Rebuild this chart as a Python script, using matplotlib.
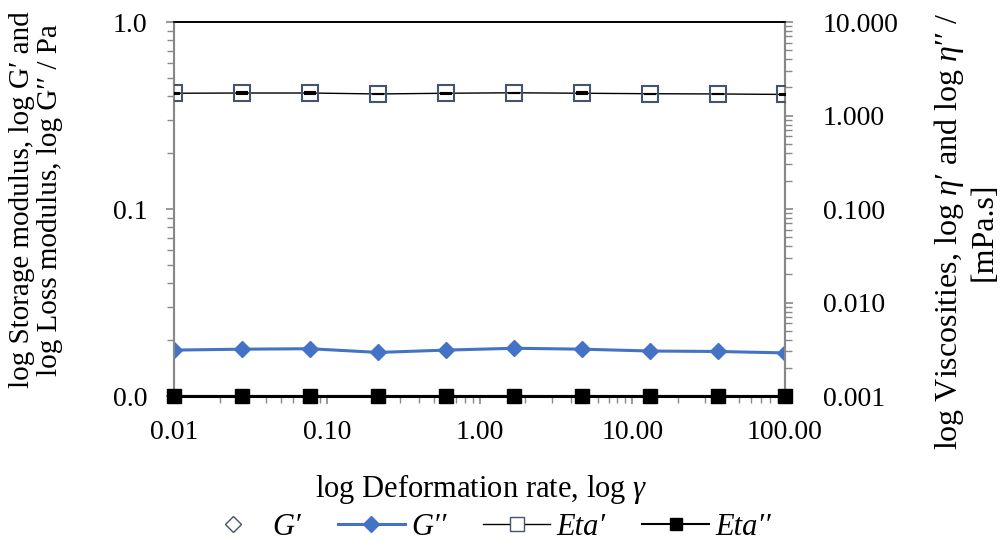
import matplotlib
matplotlib.use('Agg')
import matplotlib.pyplot as plt
from matplotlib.ticker import FormatStrFormatter, LogLocator, NullFormatter
from matplotlib.lines import Line2D

plt.rcParams['font.family'] = ['Liberation Serif', 'DejaVu Serif']
plt.rcParams['mathtext.fontset'] = 'custom'
plt.rcParams['mathtext.rm'] = 'Liberation Serif'
plt.rcParams['mathtext.it'] = 'Liberation Serif:italic'

# deformation rate
rate = [0.01, 0.0279, 0.0778, 0.217, 0.606, 1.69, 4.71, 13.1, 36.6, 100.0]
# storage modulus G' (not shown on chart)
g_storage = []
# loss modulus G'' / Pa
g_loss = [0.0176, 0.0178, 0.0179, 0.0171, 0.0176, 0.0180, 0.0178, 0.0174, 0.0173, 0.0170]
# viscosities / mPa.s
eta_1 = [1.73, 1.74, 1.74, 1.70, 1.73, 1.75, 1.73, 1.71, 1.70, 1.68]
eta_1_err = [0.02, 0.04, 0.04, 0.0, 0.02, 0.0, 0.04, 0.0, 0.0, 0.01]
eta_2 = [0.001] * 10

axcol = '#888888'
fs = 20

fig = plt.figure(figsize=(10.08, 5.53), dpi=100)
ax = fig.add_axes([0.1726, 0.2839, 0.6062, 0.6763])
ax2 = ax.twinx()

ax.plot(rate[:len(g_storage)], g_storage, 'D', ms=8, mfc='white', mec='#44546A', ls='none')
ax.plot(rate, g_loss, '-D', color='#4472C4', lw=2.2, ms=8.5, zorder=3)

ax2.errorbar(rate, eta_1, yerr=eta_1_err, fmt='none', ecolor='black', elinewidth=1.5,
             capsize=4, capthick=1.5, zorder=4)
ax2.plot(rate, eta_1, '-s', color='black', lw=1.0, ms=11, mfc='none', mec='#44546A', mew=1.5, zorder=3)
ax2.plot(rate, eta_2, '-s', color='black', lw=2.2, ms=10, clip_on=False, zorder=5)

ax.set_xscale('log')
ax.set_yscale('log')
ax2.set_yscale('log')
ax.set_xlim(0.01, 100)
ax.set_ylim(0.01, 1)
ax2.set_ylim(0.001, 10)

ax.xaxis.set_major_formatter(FormatStrFormatter('%.2f'))
ax.yaxis.set_major_formatter(FormatStrFormatter('%.1f'))
ax2.yaxis.set_major_formatter(FormatStrFormatter('%.3f'))
for a in (ax.xaxis, ax.yaxis, ax2.yaxis):
    a.set_minor_locator(LogLocator(base=10, subs=range(2, 10)))
    a.set_minor_formatter(NullFormatter())

for a in (ax, ax2):
    for s in a.spines.values():
        s.set_color(axcol)
        s.set_linewidth(1.5)
    a.spines['top'].set_color('black')
    a.spines['top'].set_linewidth(1.2)
    a.tick_params(which='both', colors=axcol, labelcolor='black', labelsize=fs, direction='out')
    a.tick_params(which='major', length=6, width=1.2)
    a.tick_params(which='minor', length=5, width=1.0)
ax.tick_params(axis='x', pad=11)
ax.tick_params(axis='y', pad=13)
ax2.tick_params(axis='y', pad=21)

fig.text(481 / 1008, 1 - 489 / 553, r'log Deformation rate, log $\it{\gamma}$',
         fontsize=22, ha='center', va='center')
fig.text(36 / 1008, 1 - 200 / 553,
         "log Storage modulus, log G\u2032 and\nlog Loss modulus, log G\u2032\u2032 / Pa",
         fontsize=21, rotation=90, ha='center', va='center', linespacing=1.12)
fig.text(965 / 1008, 1 - 232 / 553,
         "log Viscosities, log $\\it{\\eta}$\u2032 and log $\\it{\\eta}$\u2032\u2032 /\n[mPa.s]",
         fontsize=23, rotation=90, ha='center', va='center', linespacing=1.15)

handles = [
    Line2D([], [], ls='none', marker='D', ms=8, mfc='white', mec='#44546A'),
    Line2D([], [], color='#4472C4', lw=2.2, marker='D', ms=8),
    Line2D([], [], color='black', lw=1.0, marker='s', ms=10, mfc='white', mec='#44546A'),
    Line2D([], [], color='black', lw=1.5, marker='s', ms=9),
]
labels = ['G\u2032', 'G\u2032\u2032', 'Eta\u2032', 'Eta\u2032\u2032']
fig.legend(handles, labels, loc='center', bbox_to_anchor=(485 / 1008, 0.047), ncol=4, frameon=False,
           prop={'family': 'Liberation Serif', 'style': 'italic', 'size': fs + 2},
           handlelength=2.2, columnspacing=1.2, handletextpad=0.2)

fig.savefig('out.png', dpi=100)
